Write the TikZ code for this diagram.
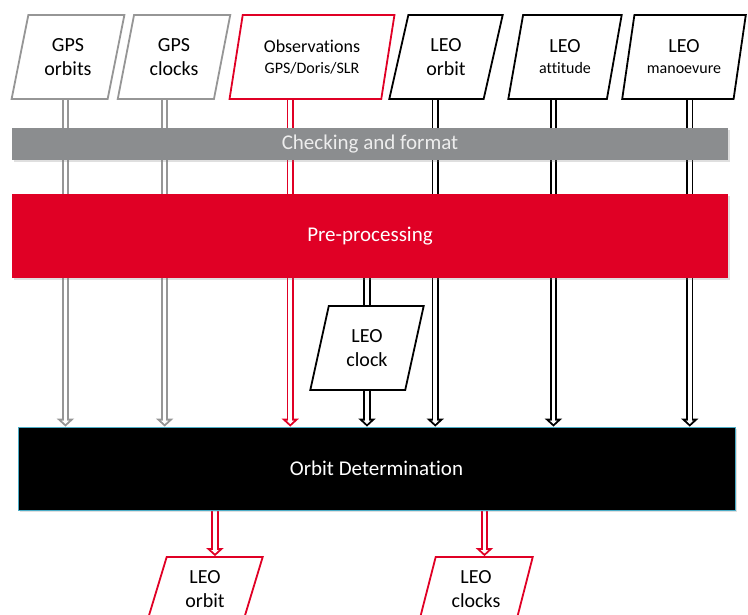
\documentclass[tikz,border=0pt]{standalone}
\usepackage{fontspec}
\setmainfont[Ligatures = NoCommon]{Carlito}
\usetikzlibrary{shapes.geometric,arrows.meta,backgrounds,shadows}
\definecolor{odred}{RGB}{224,0,37}
\definecolor{chkgray}{RGB}{139,141,143}
\definecolor{boxgray}{RGB}{150,150,150}
\definecolor{odblue}{RGB}{75,172,198}
\begin{document}
\begin{tikzpicture}[x = 1pt, y = -1pt,
		databox/.style = {trapezium, trapezium left angle = 75, trapezium right angle = 105,
			trapezium stretches = true, draw, line width = 1.8pt, fill = white, align = center,
			inner sep = 0pt, minimum height = 84, font = \fontsize{20}{24}\selectfont},
		bar/.style = {rectangle, inner sep = 0pt, minimum width = 716,
			font = \fontsize{21}{25}\selectfont,
			drop shadow = {opacity = 0.25, shadow xshift = 1.5pt, shadow yshift = -2pt}},
		dblarrow/.style = {draw = white, line width = 3.6pt, shorten > = 2.6pt,
			-{Triangle[length = 3.5pt, width = 7.4pt]},
			preaction = {draw = #1, line width = 7.4pt, shorten > = 0pt,
				-{Triangle[length = 8pt, width = 17pt]}}},
		dblarrow/.default = black]
	\useasboundingbox (0,0) rectangle (748,615);
	\clip (0,0) rectangle (748,615);
	% inputs
	\node [databox, draw = boxgray, minimum width = 113] (gpsorb) at (68,57) {GPS\\orbits};
	\node [databox, draw = boxgray, minimum width = 113] (gpsclk) at (174,57) {GPS\\clocks};
	\node [databox, draw = odred, minimum width = 165] (obs) at (312,57)
		{{\fontsize{18}{22}\selectfont Observations}\\[-3pt]{\fontsize{16}{19}\selectfont GPS/Doris/SLR}};
	\node [databox, minimum width = 114] (leoorb) at (446,57) {LEO\\orbit};
	\node [databox, minimum width = 114] (leoatt) at (565,57) {LEO\\[-3pt]{\fontsize{16}{19}\selectfont attitude}};
	\node [databox, minimum width = 124] (leoman) at (684,57) {LEO\\[-3pt]{\fontsize{16}{19}\selectfont manoevure}};
	% processing steps
	\node [bar, fill = chkgray, text = white!93!black, minimum height = 32] (chk) at (370,144) {Checking and format};
	\node [bar, fill = odred, text = white, minimum height = 84] (pre) at (370,236) {Pre-processing};
	\node [databox, minimum width = 114] (clk) at (367,348) {LEO\\clock};
	\node [bar, fill = black, draw = odblue, line width = 0.8pt, text = white,
		minimum width = 717, minimum height = 83] (od) at (376.5,468.5) {Orbit Determination};
	% outputs
	\node [databox, draw = odred, minimum width = 116, minimum height = 64] (oorb) at (205,589) {LEO\\orbit};
	\node [databox, draw = odred, minimum width = 114, minimum height = 64] (oclk) at (476,589) {LEO\\clocks};
	\begin{scope}[on background layer]
		\foreach \n/\dx/\c in {gpsorb/6/boxgray, gpsclk/-1/boxgray, obs/-15/odred,
				leoorb/-1/black, leoatt/-4/black, leoman/12/black} {
			\coordinate (\n-out) at ([xshift = \dx pt]\n.bottom side);
			\draw [dblarrow = \c] (\n-out) -- (\n-out |- od.north);
		}
		\draw [dblarrow] (clk |- pre.south) -- (clk |- od.north);
		\draw [dblarrow = odred] (oorb.top side |- od.south) -- (oorb.top side);
		\draw [dblarrow = odred] (oclk.top side |- od.south) -- (oclk.top side);
	\end{scope}
\end{tikzpicture}
\end{document}
